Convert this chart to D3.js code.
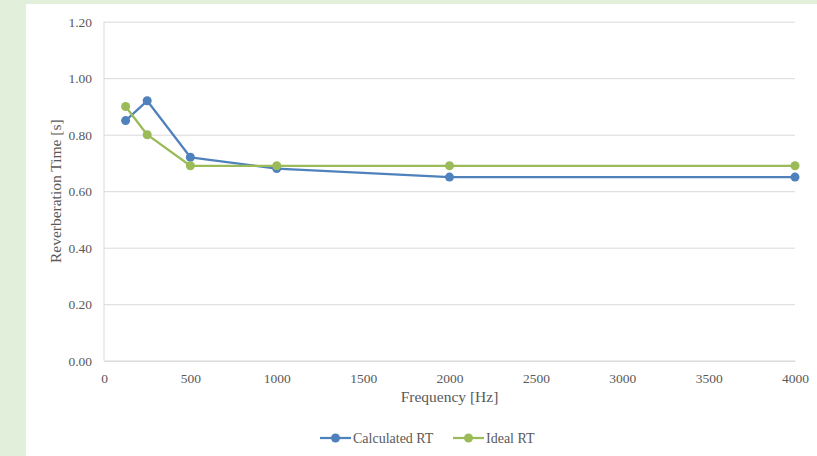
<!DOCTYPE html>
<html>
<head>
<meta charset="utf-8">
<script src="https://cdn.jsdelivr.net/npm/d3@7"></script>
<style>
  html, body { margin: 0; padding: 0; background: #e2efda; }
  svg { display: block; }
</style>
</head>
<body>
<svg id="chart" width="817" height="456"></svg>
<script>
// Reverberation time per octave band
const frequencies = [125, 250, 500, 1000, 2000, 4000];
const calculatedRT = [0.85, 0.92, 0.72, 0.68, 0.65, 0.65];
const idealRT = [0.90, 0.80, 0.69, 0.69, 0.69, 0.69];
const xTicks = [0, 500, 1000, 1500, 2000, 2500, 3000, 3500, 4000];
const yTicks = [0, 0.2, 0.4, 0.6, 0.8, 1.0, 1.2];

const seriesList = [
  { name: "Calculated RT", values: calculatedRT, color: "#4f81bd" },
  { name: "Ideal RT", values: idealRT, color: "#9bbb59" }
];

const svg = d3.select("#chart");
const font = "'Liberation Serif', 'Times New Roman', serif";
const textColor = "#595959";
const gridColor = "#d9d9d9";

// White chart panel
svg.append("rect")
  .attr("x", 26).attr("y", 4)
  .attr("width", 817 - 26).attr("height", 456 - 4)
  .attr("fill", "#ffffff");

const plot = { left: 104, right: 795, top: 21.7, bottom: 360.7 };

const x = d3.scaleLinear().domain([0, 4000]).range([plot.left, plot.right]);
const y = d3.scaleLinear().domain([0, 1.2]).range([plot.bottom, plot.top]);

// Horizontal gridlines
const yAxis = d3.axisLeft(y)
  .tickValues(yTicks)
  .tickFormat(d3.format(".2f"))
  .tickSize(-(plot.right - plot.left))
  .tickPadding(12);

const gy = svg.append("g")
  .attr("transform", `translate(${plot.left},0)`)
  .call(yAxis);
gy.select(".domain").remove();
gy.selectAll(".tick line").attr("stroke", gridColor).attr("stroke-width", 1);
gy.selectAll(".tick text")
  .attr("fill", textColor)
  .style("font-family", font)
  .style("font-size", "13.5px");

// Vertical axis line
svg.append("line")
  .attr("x1", plot.left).attr("x2", plot.left)
  .attr("y1", plot.top).attr("y2", plot.bottom)
  .attr("stroke", gridColor).attr("stroke-width", 1);

// X axis
const xAxis = d3.axisBottom(x)
  .tickValues(xTicks)
  .tickFormat(d3.format("d"))
  .tickSize(0)
  .tickPadding(13);

const gx = svg.append("g")
  .attr("transform", `translate(0,${plot.bottom})`)
  .call(xAxis);
gx.select(".domain").attr("stroke", gridColor).attr("stroke-width", 1);
gx.selectAll(".tick text")
  .attr("fill", textColor)
  .style("font-family", font)
  .style("font-size", "13.5px");

// Axis titles
svg.append("text")
  .attr("x", (plot.left + plot.right) / 2)
  .attr("y", 402)
  .attr("text-anchor", "middle")
  .attr("fill", textColor)
  .style("font-family", font)
  .style("font-size", "15.5px")
  .text("Frequency [Hz]");

svg.append("text")
  .attr("transform", `translate(61,${(plot.top + plot.bottom) / 2}) rotate(-90)`)
  .attr("text-anchor", "middle")
  .attr("fill", textColor)
  .style("font-family", font)
  .style("font-size", "15.5px")
  .text("Reverberation Time [s]");

// Series lines and markers
const line = d3.line()
  .x((d, i) => x(frequencies[i]))
  .y(d => y(d));

seriesList.forEach(s => {
  const g = svg.append("g");
  g.append("path")
    .datum(s.values)
    .attr("d", line)
    .attr("fill", "none")
    .attr("stroke", s.color)
    .attr("stroke-width", 2.25)
    .attr("stroke-linejoin", "round");
  g.selectAll("circle")
    .data(s.values)
    .join("circle")
    .attr("cx", (d, i) => x(frequencies[i]))
    .attr("cy", d => y(d))
    .attr("r", 4.5)
    .attr("fill", s.color);
});

// Legend
const legendY = 438;
const legendItems = [
  { s: seriesList[0], x0: 320 },
  { s: seriesList[1], x0: 453 }
];
legendItems.forEach(({ s, x0 }) => {
  const g = svg.append("g").attr("transform", `translate(${x0},${legendY})`);
  g.append("line")
    .attr("x1", 0).attr("x2", 31)
    .attr("y1", 0).attr("y2", 0)
    .attr("stroke", s.color).attr("stroke-width", 2.25);
  g.append("circle")
    .attr("cx", 15.5).attr("cy", 0).attr("r", 4.5)
    .attr("fill", s.color);
  g.append("text")
    .attr("x", 33).attr("y", 0)
    .attr("dy", "0.35em")
    .attr("fill", textColor)
    .style("font-family", font)
    .style("font-size", "14px")
    .text(s.name);
});
</script>
</body>
</html>
